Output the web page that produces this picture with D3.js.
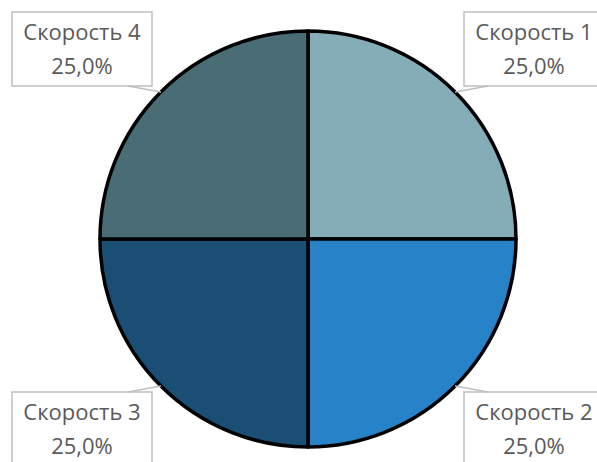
<!DOCTYPE html>
<html>
<head>
<meta charset="utf-8">
<script src="https://d3js.org/d3.v7.min.js"></script>
<style>
  body { margin: 0; background: #fff; }
  text { font-family: "Open Sans", "Liberation Sans", sans-serif; fill: #595959; }
</style>
</head>
<body>
<svg width="597" height="462"></svg>
<script>
// data
var categories = ["Скорость 1", "Скорость 2", "Скорость 3", "Скорость 4"];
var values = [25, 25, 25, 25];
var colors = ["#85adb8", "#2782c7", "#1b4e74", "#4a6c74"];

var svg = d3.select("svg");
var cx = 308, cy = 239, r = 208;

var pie = d3.pie().sort(null).value(function(d) { return d; });
var arcs = pie(values);
var total = d3.sum(values);
var arc = d3.arc().innerRadius(0).outerRadius(r);

var g = svg.append("g").attr("transform", "translate(" + cx + "," + cy + ")");

g.selectAll("path.slice").data(arcs).enter().append("path")
  .attr("class", "slice")
  .attr("d", arc)
  .attr("fill", function(d, i) { return colors[i]; })
  .attr("stroke", "#000")
  .attr("stroke-width", 3.5)
  .attr("stroke-linejoin", "round");

// labels: boxes in the corners
var boxW = 140, boxH = 74;
var lbl = g.selectAll("g.lbl").data(arcs).enter().append("g").attr("class", "lbl");

lbl.each(function(d, i) {
  var a = (d.startAngle + d.endAngle) / 2;
  var sx = Math.sin(a), sy = -Math.cos(a);
  var px = sx * r, py = sy * r;            // point on rim
  var bx = sx > 0 ? 156 : -296;            // box left, relative to center
  var by = sy < 0 ? -227 : 153;            // box top
  var el = d3.select(this);
  var edgeY = sy < 0 ? by + boxH : by;
  var ex = sx > 0 ? bx + 24 : bx + boxW - 24;
  el.append("rect")
    .attr("x", bx).attr("y", by).attr("width", boxW).attr("height", boxH)
    .attr("fill", "#fff").attr("stroke", "#bfbfbf").attr("stroke-width", 1.5);
  el.append("line")
    .attr("x1", px).attr("y1", py).attr("x2", ex).attr("y2", edgeY)
    .attr("stroke", "#bfbfbf").attr("stroke-width", 1.5);
  var tx = bx + boxW / 2;
  el.append("text").attr("x", tx).attr("y", by + 28)
    .attr("text-anchor", "middle").attr("font-size", 22)
    .text(categories[i]);
  el.append("text").attr("x", tx).attr("y", by + 62)
    .attr("text-anchor", "middle").attr("font-size", 22)
    .text(d3.format(".1f")(d.data / total * 100).replace(".", ",") + "%");
});
</script>
</body>
</html>
